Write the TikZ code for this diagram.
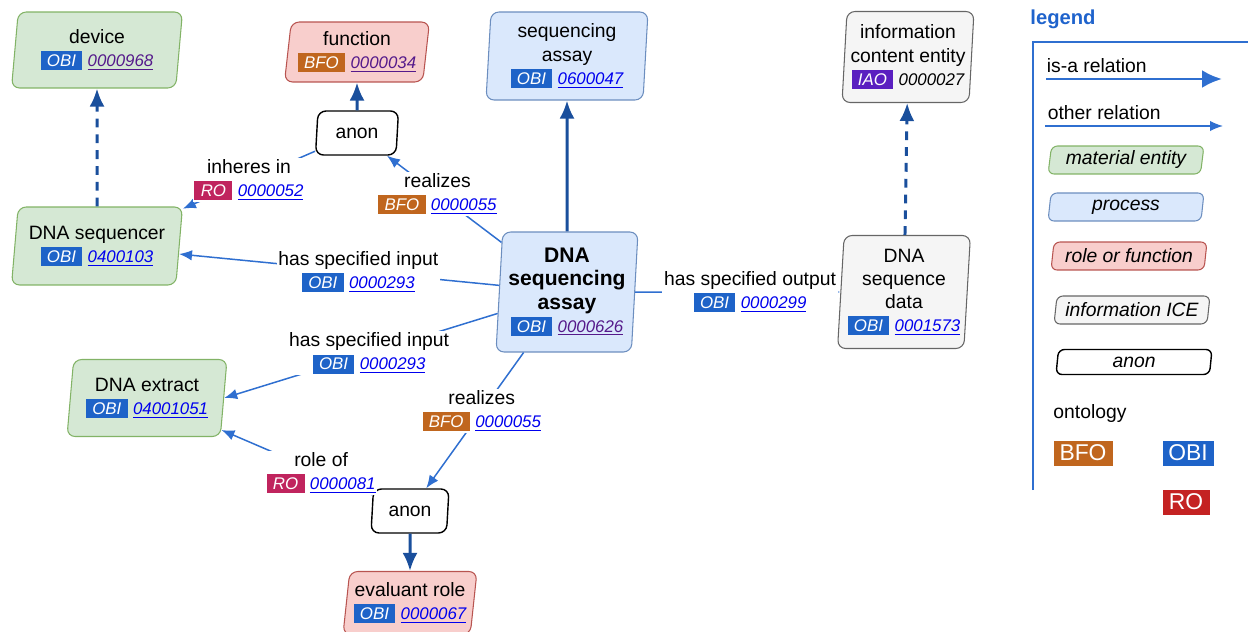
\documentclass[tikz,border=0pt]{standalone}
\usepackage{fontspec}
\setmainfont{Liberation Sans}
\usetikzlibrary{shapes.geometric, arrows.meta}
\definecolor{matfill}{HTML}{D5E8D4}
\definecolor{matline}{HTML}{82B366}
\definecolor{procfill}{HTML}{DAE8FC}
\definecolor{procline}{HTML}{6C8EBF}
\definecolor{rolefill}{HTML}{F8CECC}
\definecolor{roleline}{HTML}{B85450}
\definecolor{icefill}{HTML}{F5F5F5}
\definecolor{iceline}{HTML}{666666}
\definecolor{isablue}{HTML}{1A4F9C}
\definecolor{relblue}{HTML}{2F6FD0}
\definecolor{legendblue}{HTML}{1F63CC}
\definecolor{obiblue}{HTML}{1E63C8}
\definecolor{bfobrown}{HTML}{C0661E}
\definecolor{romagenta}{HTML}{C0245E}
\definecolor{rored}{HTML}{C42222}
\definecolor{iaopurple}{HTML}{5A1FC0}
\definecolor{linkblue}{HTML}{0000EE}
\definecolor{linkvisited}{HTML}{551A8B}
\newcommand{\idfont}{\fontsize{9.6}{11}\selectfont\itshape}
\newcommand{\onto}[2]{{\setlength{\fboxsep}{2pt}\colorbox{#1}{\hspace{1.6pt}\textcolor{white}{\idfont #2}\hspace{1.6pt}}}}
\newcommand{\iri}[2][linkblue]{\textcolor{#1}{\idfont\underline{#2}}}
\newcommand{\boldname}{\fontsize{12}{13.4}\selectfont\bfseries}

\begin{document}
\begin{tikzpicture}[
          x = 0.02cm, y = -0.02cm,
          font = \fontsize{11}{13.2}\selectfont,
          inner sep = 2pt
        ]
          \tikzstyle {shapebox} = [shape = trapezium, trapezium left angle = 82, trapezium right angle = 98,
                                   trapezium stretches body = true, rounded corners = 0.16cm,
                                   draw, line width = 0.6pt, align = center]
          \tikzstyle {steep} = [trapezium left angle = 86, trapezium right angle = 94]
          \tikzstyle {matbox} = [shapebox, fill = matfill, draw = matline]
          \tikzstyle {procbox} = [shapebox, fill = procfill, draw = procline]
          \tikzstyle {rolebox} = [shapebox, fill = rolefill, draw = roleline]
          \tikzstyle {icebox} = [shapebox, fill = icefill, draw = iceline]
          \tikzstyle {anonbox} = [shapebox, fill = white, draw = black, line width = 0.8pt]
          \tikzstyle {legbox} = [rounded corners = 0.12cm, minimum width = 3.12cm, minimum height = 0.56cm]
          \tikzstyle {badge} = [text = white, minimum height = 0.5cm, font = \fontsize{13}{15}\selectfont]
          \tikzstyle {elabel} = [fill = white, align = center, inner sep = 1pt]
          \tikzstyle {isa} = [draw = isablue, line width = 1.7pt, -{Latex[length = 0.36cm, width = 0.3cm]}]
          \tikzstyle {isadash} = [isa, dash pattern = on 5pt off 4pt]
          \tikzstyle {rel} = [draw = relblue, line width = 0.85pt, -{Latex[length = 0.26cm, width = 0.21cm]}]
          \useasboundingbox (0,0) rectangle (1248,632);
          % place nodes
          \path node (device) [matbox, minimum width = 3.42cm, minimum height = 1.52cm] at (97,50)
            {device\\\onto{obiblue}{OBI} \iri[linkvisited]{0000968}};
          \path node (function) [rolebox, minimum width = 2.9cm, minimum height = 1.2cm] at (357,52)
            {function\\\onto{bfobrown}{BFO} \iri[linkvisited]{0000034}};
          \path node (anon1) [anonbox, minimum width = 1.66cm, minimum height = 0.88cm] at (357,133) {anon};
          \path node (sequencer) [matbox, minimum width = 3.42cm, minimum height = 1.56cm] at (97,246)
            {DNA sequencer\\\onto{obiblue}{OBI} \iri{0400103}};
          \path node (seqassay) [procbox, steep, minimum width = 3.24cm, minimum height = 1.76cm] at (567,56)
            {sequencing\\assay\\\onto{obiblue}{OBI} \iri{0600047}};
          \path node (ice) [icebox, steep, minimum width = 2.58cm, minimum height = 1.82cm] at (908,57)
            {information\\content entity\\\onto{iaopurple}{IAO} {\idfont 0000027}};
          \path node (assay) [procbox, steep, minimum width = 2.84cm, minimum height = 2.4cm] at (567,292)
            {\boldname DNA\\\boldname sequencing\\\boldname assay\\\onto{obiblue}{OBI} \iri[linkvisited]{0000626}};
          \path node (seqdata) [icebox, steep, minimum width = 2.56cm, minimum height = 2.26cm] at (904,292)
            {DNA\\sequence\\data\\\onto{obiblue}{OBI} \iri{0001573}};
          \path node (extract) [matbox, minimum width = 3.2cm, minimum height = 1.54cm] at (147,398)
            {DNA extract\\\onto{obiblue}{OBI} \iri{04001051}};
          \path node (anon2) [anonbox, minimum width = 1.56cm, minimum height = 0.88cm] at (410,511) {anon};
          \path node (evalrole) [rolebox, minimum width = 2.68cm, minimum height = 1.26cm] at (410,603)
            {evaluant role\\\onto{obiblue}{OBI} \iri{0000067}};
          % place edges
          \foreach \a/\b in {assay/seqassay, anon1/function, anon2/evalrole}
            { \draw [isa] (\a) -- (\b) ; } ;
          \foreach \a/\b in {sequencer/device, seqdata/ice}
            { \draw [isadash] (\a) -- (\b) ; } ;
          \draw [rel] (anon1) -- node [elabel, pos = 0.5] (inheres) {inheres in\\\onto{romagenta}{RO} \iri{0000052}} (sequencer);
          \draw [rel] (assay) -- node [elabel, pos = 0.56] (realizes1) {realizes\\\onto{bfobrown}{BFO} \iri{0000055}} (anon1);
          \draw [rel] (assay) -- node [elabel, pos = 0.44] (input1) {has specified input\\\onto{obiblue}{OBI} \iri{0000293}} (sequencer);
          \draw [rel] (assay) -- node [elabel, pos = 0.47] (input2) {has specified input\\\onto{obiblue}{OBI} \iri{0000293}} (extract.east);
          \draw [rel] (assay) -- node [elabel, pos = 0.43] (realizes2) {realizes\\\onto{bfobrown}{BFO} \iri{0000055}} (anon2);
          \draw [rel] (anon2) -- node [elabel, pos = 0.34] (roleof) {role of\\\onto{romagenta}{RO} \iri{0000081}} (extract);
          \draw [rel] (assay) -- node [elabel, pos = 0.56] (output) {has specified output\\\onto{obiblue}{OBI} \iri{0000299}} (seqdata);
          % legend
          \path node (legend) [text = legendblue, font = \fontsize{11.5}{13}\selectfont\bfseries] at (1063,19) {legend};
          \draw [relblue, line width = 0.8pt] (1033,490) |- (1248,42);
          \path node (isatext) [anchor = west] at (1043,66) {is-a relation};
          \coordinate (isastart) at (1046,79);
          \coordinate (isaend) at (1222,79);
          \draw [isa, draw = relblue, -{Latex[length = 0.4cm, width = 0.36cm]}] (isastart) -- (isaend);
          \path node (reltext) [anchor = west] at (1044,113) {other relation};
          \coordinate (relstart) at (1045,126);
          \coordinate (relend) at (1223,126);
          \draw [rel] (relstart) -- (relend);
          \path node (lmat) [matbox, legbox] at (1126,160) {\itshape material entity};
          \path node (lproc) [procbox, legbox] at (1126,207) {\itshape process};
          \path node (lrole) [rolebox, legbox] at (1129,256) {\itshape role or function};
          \path node (lice) [icebox, legbox] at (1132,310) {\itshape information ICE};
          \path node (lanon) [anonbox, legbox, minimum height = 0.5cm] at (1134,362) {\itshape anon};
          \path node (ontology) at (1090,413) {ontology};
          \path node (lbfo) [badge, fill = bfobrown, minimum width = 1.18cm] at (1083,453) {BFO};
          \path node (lobi) [badge, fill = obiblue, minimum width = 1.02cm] at (1188,453) {OBI};
          \path node (lro) [badge, fill = rored, minimum width = 0.94cm] at (1186,502) {RO};
        \end{tikzpicture}
\end{document}
